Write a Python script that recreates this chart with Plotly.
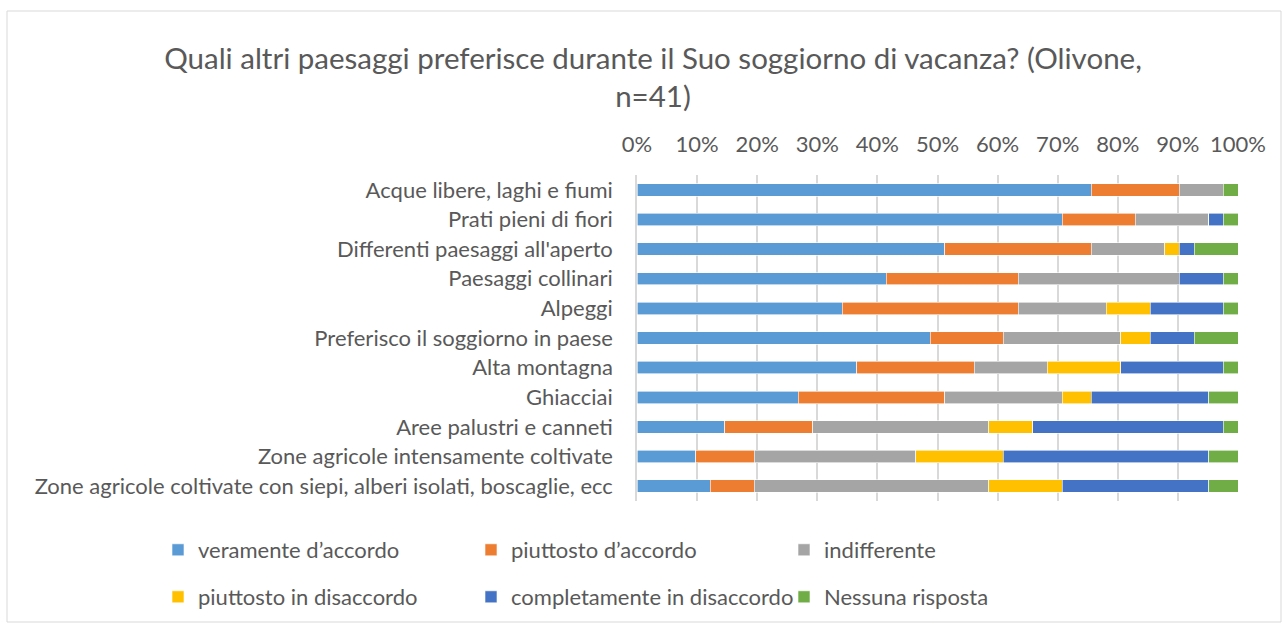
import plotly.graph_objects as go

categories = [
    "Acque libere, laghi e fiumi",
    "Prati pieni di fiori",
    "Differenti paesaggi all'aperto",
    "Paesaggi collinari",
    "Alpeggi",
    "Preferisco il soggiorno in paese",
    "Alta montagna",
    "Ghiacciai",
    "Aree palustri e canneti",
    "Zone agricole intensamente coltivate",
    "Zone agricole coltivate con siepi, alberi isolati, boscaglie, ecc",
]

# counts of answers (n=41)
veramente_accordo = [31, 29, 21, 17, 14, 20, 15, 11, 6, 4, 5]
piuttosto_accordo = [6, 5, 10, 9, 12, 5, 8, 10, 6, 4, 3]
indifferente = [3, 5, 5, 11, 6, 8, 5, 8, 12, 11, 16]
piuttosto_disaccordo = [0, 0, 1, 0, 3, 2, 5, 2, 3, 6, 5]
completamente_disaccordo = [0, 1, 1, 3, 5, 3, 7, 8, 13, 14, 10]
nessuna_risposta = [1, 1, 3, 1, 1, 3, 1, 2, 1, 2, 2]

series_names = [
    "veramente d\u2019accordo",
    "piuttosto d\u2019accordo",
    "indifferente",
    "piuttosto in disaccordo",
    "completamente in disaccordo",
    "Nessuna risposta",
]
series_values = [veramente_accordo, piuttosto_accordo, indifferente,
                 piuttosto_disaccordo, completamente_disaccordo, nessuna_risposta]
colors = ["#5B9BD5", "#ED7D31", "#A5A5A5", "#FFC000", "#4472C4", "#70AD47"]
tick_vals = [0, 10, 20, 30, 40, 50, 60, 70, 80, 90, 100]
tick_text = ["0%", "10%", "20%", "30%", "40%", "50%", "60%", "70%", "80%", "90%", "100%"]

FONT = "Lato"
TXT = "#595959"
W, H = 1282, 623
ML, MR, MT, MB = 637, 44, 175, 122
pw = W - ML - MR
ph = H - MT - MB

fig = go.Figure()
for i, (name, vals, col) in enumerate(zip(series_names, series_values, colors)):
    fig.add_trace(go.Bar(
        y=categories, x=vals, name=name, orientation="h",
        marker=dict(color=col, line=dict(color="white", width=0.6)),
        legend="legend" if i < 3 else "legend2",
    ))

def px_x(x):
    return (x - ML) / pw

def px_y(y):
    return 1 - (y - MT) / ph

legend_common = dict(
    orientation="h", xanchor="left", yanchor="top",
    entrywidth=268, entrywidthmode="pixels",
    font=dict(size=22, color=TXT), itemwidth=30, traceorder="normal",
    bgcolor="rgba(0,0,0,0)",
)

fig.update_layout(
    width=W, height=H,
    barmode="stack", barnorm="percent", bargap=0.58,
    plot_bgcolor="white", paper_bgcolor="white",
    margin=dict(l=ML, r=MR, t=MT, b=MB, autoexpand=False),
    font=dict(family=FONT, color=TXT, size=22),
    title=dict(
        text="Quali altri paesaggi preferisce durante il Suo soggiorno di vacanza? (Olivone,<br>n=41)",
        x=653 / W, xanchor="center", xref="container",
        y=1 - 69 / H, yanchor="top", yref="container",
        font=dict(family=FONT, size=29.5, color=TXT),
    ),
    xaxis=dict(
        side="top", range=[0, 100], tickvals=tick_vals, ticktext=tick_text,
        showgrid=True, gridcolor="#D9D9D9", gridwidth=1.5,
        zeroline=False, showline=False, ticks="", ticklabelstandoff=18,
        tickfont=dict(size=22, color=TXT),
    ),
    yaxis=dict(
        autorange="reversed", showgrid=False, showline=True,
        linecolor="#D9D9D9", linewidth=1.5, ticks="",
        ticklabelstandoff=18, tickfont=dict(size=22, color=TXT),
    ),
    legend=dict(x=px_x(158), y=px_y(529), **legend_common),
    legend2=dict(x=px_x(158), y=px_y(576), **legend_common),
    shapes=[dict(
        type="rect", xref="paper", yref="paper",
        x0=px_x(7), x1=px_x(1281), y0=px_y(11), y1=px_y(622),
        line=dict(color="#D9D9D9", width=1), fillcolor="rgba(0,0,0,0)", layer="below",
    )],
)

fig.write_html("out.html", config={"displayModeBar": False},
               post_script="document.body.style.margin='0';")
